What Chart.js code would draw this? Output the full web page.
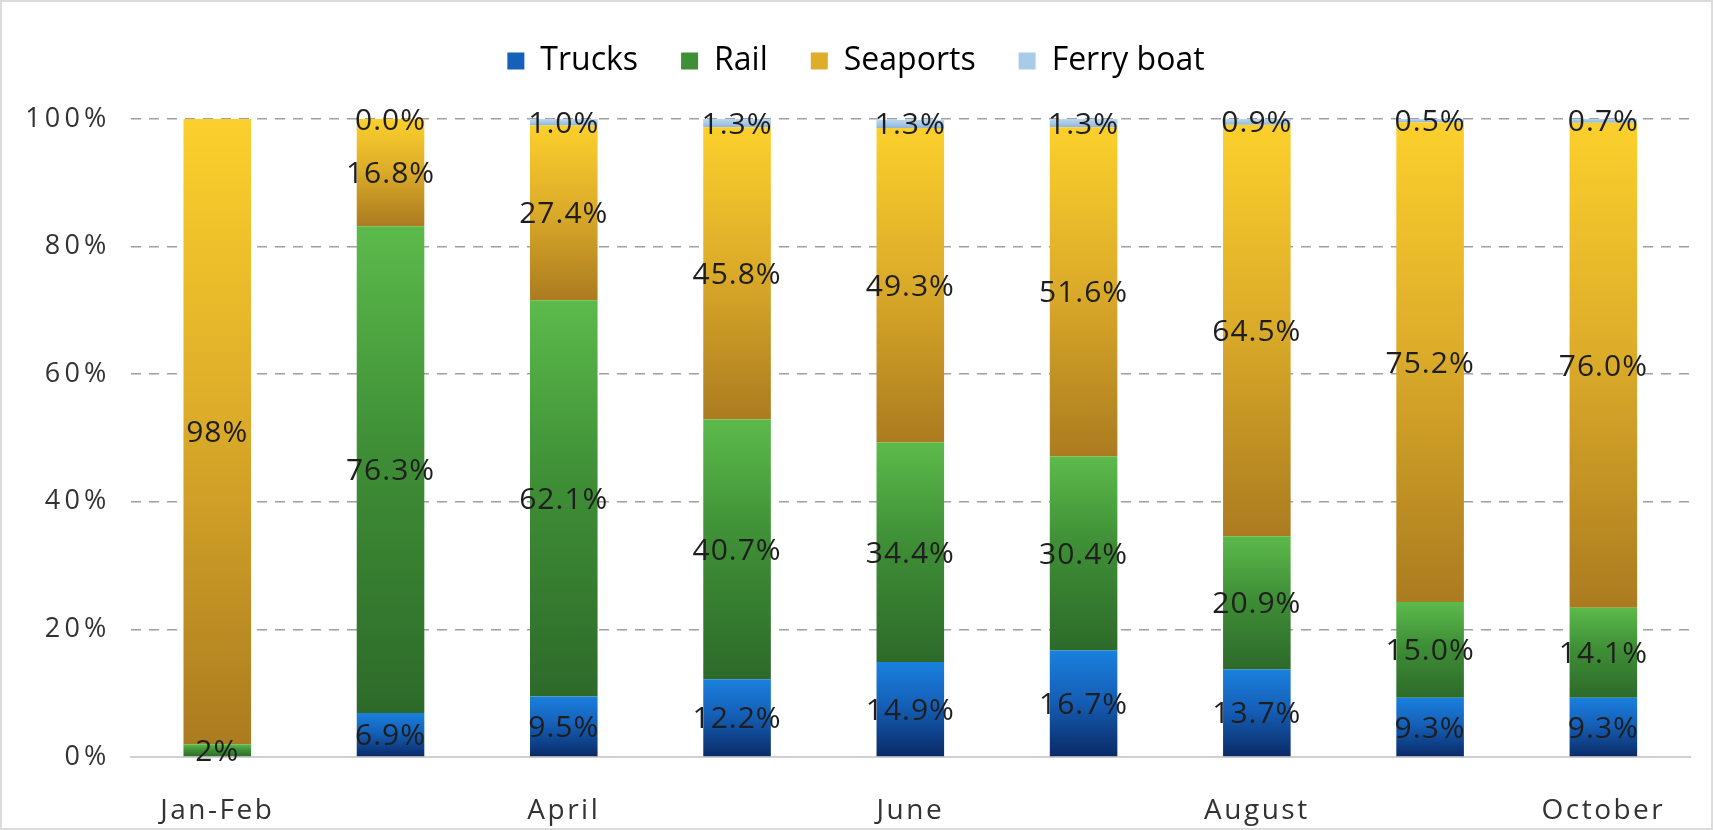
<!DOCTYPE html>
<html>
<head>
<meta charset="utf-8">
<script src="https://cdn.jsdelivr.net/npm/chart.js@4"></script>
<style>
  body { margin: 0; background: #fff; }
  .wrap { position: relative; width: 1713px; height: 830px; box-sizing: border-box; border: 2px solid #dcdcdc; }
</style>
</head>
<body>
<div class="wrap"><canvas id="grafico"></canvas></div>
<script>
const meses = ["Jan-Feb", "March", "April", "May", "June", "July", "August", "September", "October"];
const trucks = [null, 6.9, 9.5, 12.2, 14.9, 16.7, 13.7, 9.3, 9.3];
const rail = [2, 76.3, 62.1, 40.7, 34.4, 30.4, 20.9, 15.0, 14.1];
const seaports = [98, 16.8, 27.4, 45.8, 49.3, 51.6, 64.5, 75.2, 76.0];
const ferry = [null, 0.0, 1.0, 1.3, 1.3, 1.3, 0.9, 0.5, 0.7];
const yTicks = [0, 20, 40, 60, 80, 100];

const series = [trucks, rail, seaports, ferry];
// cores do gradiente: [base, meio, topo]
const cores = [
  ["#0a2a66", "#1560b8", "#1a80de"],
  ["#2d6a2a", "#3f8f36", "#5cba4b"],
  ["#ab7b20", "#deae2a", "#fbd02c"],
  ["#8fb6dc", "#a9cbea", "#bcd8f0"]
];

function gradiente(ds) {
  return function (ctx) {
    const chart = ctx.chart;
    const area = chart.chartArea;
    if (!area || ctx.type !== "data") return cores[ds][2];
    let base = 0;
    for (let k = 0; k < ds; k++) base += series[k][ctx.dataIndex] || 0;
    const topo = base + (series[ds][ctx.dataIndex] || 0);
    const y = chart.scales.y;
    const y0 = y.getPixelForValue(base);
    const y1 = y.getPixelForValue(topo);
    if (!isFinite(y0) || !isFinite(y1) || y0 === y1) return cores[ds][2];
    const g = chart.ctx.createLinearGradient(0, y0, 0, y1);
    g.addColorStop(0, cores[ds][0]);
    g.addColorStop(0.55, cores[ds][1]);
    g.addColorStop(1, cores[ds][2]);
    return g;
  };
}

// espaçamento entre letras dos rótulos de um eixo (medida e desenho)
function espacar(px) {
  return {
    antes(scale) {
      scale.ctx.letterSpacing = px;
      if (!scale._espacado) {
        const orig = scale.drawLabels;
        scale.drawLabels = function (area) {
          this.ctx.save();
          this.ctx.letterSpacing = px;
          orig.call(this, area);
          this.ctx.restore();
        };
        scale._espacado = true;
      }
    },
    depois(scale) { scale.ctx.letterSpacing = "0px"; }
  };
}
const espX = espacar("2.5px");
const espY = espacar("4.2px");

// legenda: altura fixa para afastar a área do gráfico
const legendaAltura = {
  id: "legendaAltura",
  beforeInit(chart) {
    const fitOrig = chart.legend.fit;
    chart.legend.fit = function () {
      this.ctx.letterSpacing = "0px";
      fitOrig.bind(chart.legend)();
      this.height = 117;
    };
  },
  beforeDraw(chart) { chart.ctx.letterSpacing = "0px"; }
};

// rótulos de valor no centro de cada segmento
const rotulos = {
  id: "rotulos",
  afterDatasetsDraw(chart) {
    const c = chart.ctx;
    c.save();
    c.font = "30px 'Open Sans'";
    c.letterSpacing = "1px";
    c.fillStyle = "#1e1e1e";
    c.textAlign = "center";
    c.textBaseline = "middle";
    chart.data.datasets.forEach((ds, i) => {
      const meta = chart.getDatasetMeta(i);
      meta.data.forEach((bar, j) => {
        const v = ds.data[j];
        if (v === null || v === undefined) return;
        const txt = j === 0 ? v.toFixed(0) + "%" : v.toFixed(1) + "%";
        c.fillText(txt, bar.x, (bar.y + bar.base) / 2 + 2);
      });
    });
    c.restore();
  }
};

new Chart(document.getElementById("grafico"), {
  type: "bar",
  data: {
    labels: meses,
    datasets: [
      { label: "Trucks", data: trucks, backgroundColor: gradiente(0) },
      { label: "Rail", data: rail, backgroundColor: gradiente(1) },
      { label: "Seaports", data: seaports, backgroundColor: gradiente(2) },
      { label: "Ferry boat", data: ferry, backgroundColor: gradiente(3) }
    ]
  },
  options: {
    responsive: true,
    maintainAspectRatio: false,
    animation: false,
    categoryPercentage: 1,
    barPercentage: 0.39,
    layout: { padding: { left: 20, right: 21, top: 0, bottom: 0 } },
    plugins: {
      legend: {
        position: "top",
        labels: {
          font: { family: "Open Sans", size: 32 },
          color: "#333",
          boxWidth: 17,
          boxHeight: 17,
          padding: 43,
          generateLabels(chart) {
            return chart.data.datasets.map((ds, i) => ({
              text: ds.label,
              fillStyle: cores[i][1],
              strokeStyle: cores[i][1],
              lineWidth: 0,
              datasetIndex: i
            }));
          }
        }
      },
      tooltip: { enabled: false }
    },
    scales: {
      x: {
        stacked: true,
        grid: { display: false },
        border: { color: "#d0d0d0", width: 2 },
        beforeCalculateLabelRotation: espX.antes,
        afterCalculateLabelRotation: espX.depois,
        beforeFit: espX.antes,
        afterFit(scale) { espX.depois(scale); scale.height = 71; },
        ticks: {
          autoSkip: false,
          maxRotation: 0,
          padding: 29,
          color: "#333",
          font: { family: "Open Sans", size: 28 },
          callback: function (val, idx) { return idx % 2 === 0 ? meses[idx] : ""; }
        }
      },
      y: {
        stacked: true,
        min: 0,
        max: 100,
        afterBuildTicks(axis) { axis.ticks = yTicks.map(v => ({ value: v })); },
        beforeCalculateLabelRotation: espY.antes,
        afterCalculateLabelRotation: espY.depois,
        beforeFit: espY.antes,
        afterFit: espY.depois,
        grid: { color: "#a0a0a0", lineWidth: 1.5, drawTicks: false },
        border: { display: false, dash: [10, 8] },
        ticks: {
          padding: 20,
          color: "#333",
          font: { family: "Open Sans", size: 27 },
          callback: v => v + "%"
        }
      }
    }
  },
  plugins: [legendaAltura, rotulos]
});
</script>
</body>
</html>
